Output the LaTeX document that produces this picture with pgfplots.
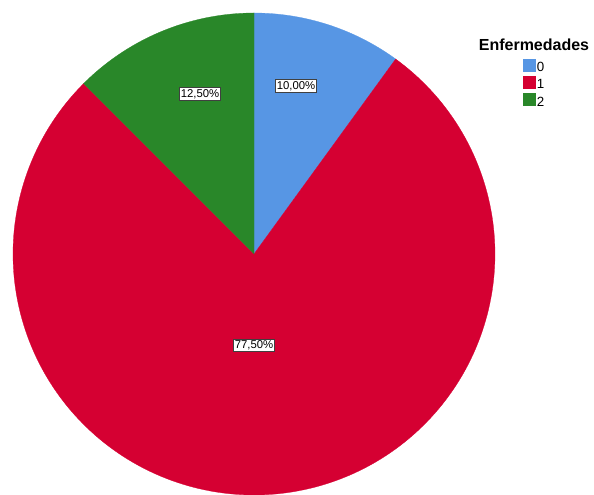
\documentclass[border=0pt]{standalone}
\usepackage{pgfplots}
\usepackage{pgfplotstable}
\pgfplotsset{compat=1.18}
\usepackage{fontspec}
\setmainfont{Liberation Sans}
\definecolor{c0}{RGB}{87,150,228}
\definecolor{c1}{RGB}{213,0,50}
\definecolor{c2}{RGB}{41,135,41}
\pgfplotstableread{
cat value
0 10.0
1 77.5
2 12.5
}\piedata
\pgfplotstablegetelem{0}{value}\of\piedata \let\vA\pgfplotsretval
\pgfplotstablegetelem{1}{value}\of\piedata \let\vB\pgfplotsretval
\pgfplotstablegetelem{2}{value}\of\piedata \let\vC\pgfplotsretval
\pgfmathsetmacro\aA{90}
\pgfmathsetmacro\aB{\aA-3.6*\vA}
\pgfmathsetmacro\aC{\aB-3.6*\vB}
\pgfmathsetmacro\aD{\aC-3.6*\vC}
\begin{document}
\begin{tikzpicture}
\begin{axis}[
  width=445.5pt, height=370.5pt, scale only axis,
  xmin=0, xmax=594, ymin=0, ymax=494,
  hide axis, clip=true,
  legend style={at={(axis cs:523,435.5)}, anchor=north west, draw=none, fill=none,
    font=\fontsize{10}{12}\selectfont, row sep=2.4pt, inner sep=0pt,
    nodes={text height=7pt, text depth=0pt, inner sep=1pt}},
  legend image code/.code={\fill[#1] (0pt,-3pt) rectangle (9pt,6pt);},
  legend cell align=left,
]
\addplot[fill=c0, draw=c0, line width=0.2pt, domain=\aB:\aA, samples=60, variable=\t]
  ({254+241*cos(\t)}, {240+241*sin(\t)}) -- (axis cs:254,240) -- cycle;
\addlegendentry{0}
\addplot[fill=c1, draw=c1, line width=0.2pt, domain=\aC:\aB, samples=200, variable=\t]
  ({254+241*cos(\t)}, {240+241*sin(\t)}) -- (axis cs:254,240) -- cycle;
\addlegendentry{1}
\addplot[fill=c2, draw=c2, line width=0.2pt, domain=\aD:\aC, samples=60, variable=\t]
  ({254+241*cos(\t)}, {240+241*sin(\t)}) -- (axis cs:254,240) -- cycle;
\addlegendentry{2}
\node[draw=black!75, fill=white, inner sep=1.2pt, line width=0.5pt, font=\fontsize{8.5}{9}\selectfont] at (axis cs:296,408) {10,00\%};
\node[draw=black!75, fill=white, inner sep=1.2pt, line width=0.5pt, font=\fontsize{8.5}{9}\selectfont] at (axis cs:200,400) {12,50\%};
\node[draw=black!75, fill=white, inner sep=1.2pt, line width=0.5pt, font=\fontsize{8.5}{9}\selectfont] at (axis cs:254,148.5) {77,50\%};
\node[font=\bfseries\fontsize{12}{14}\selectfont] at (axis cs:534,449.5) {Enfermedades};
\end{axis}
\pgfresetboundingbox
\path (0,0) rectangle (445.5pt,370.5pt);
\end{tikzpicture}
\end{document}
